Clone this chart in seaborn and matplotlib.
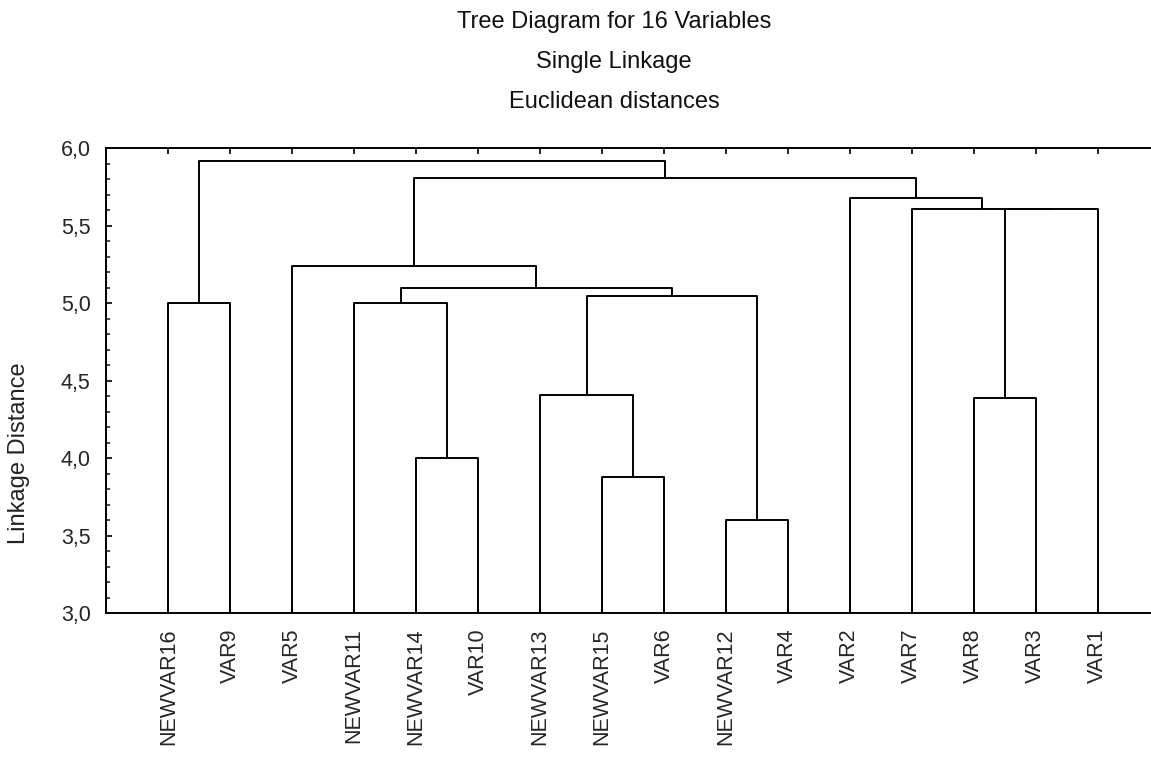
import numpy as np
import pandas as pd
import matplotlib
matplotlib.use("Agg")
import matplotlib.pyplot as plt
import seaborn as sns
from matplotlib.ticker import MultipleLocator, FuncFormatter

# ---- data ----
leaf_labels = ["NEWVAR16", "VAR9", "VAR5", "NEWVAR11", "NEWVAR14", "VAR10",
               "NEWVAR13", "NEWVAR15", "VAR6", "NEWVAR12", "VAR4", "VAR2",
               "VAR7", "VAR8", "VAR3", "VAR1"]
# cluster ids: leaves 0..15, each merge creates id 16, 17, ...
merge_left = [9, 7, 4, 13, 6, 0, 3, 20, 22, 2, 19, 12, 11, 25, 21]
merge_right = [10, 8, 5, 14, 17, 1, 18, 16, 23, 24, 15, 26, 27, 28, 29]
merge_height = [3.60, 3.88, 4.00, 4.39, 4.41, 5.00, 5.00, 5.05, 5.10,
                5.24, 5.61, 5.61, 5.68, 5.81, 5.92]
y_min, y_max = 3.0, 6.0
title_lines = ["Tree Diagram for 16 Variables", "Single Linkage", "Euclidean distances"]
y_label = "Linkage Distance"

# ---- build dendrogram segments ----
pos = list(np.arange(len(leaf_labels), dtype=float))
hgt = [y_min] * len(leaf_labels)
rows = []
for k, (a, b, h) in enumerate(zip(merge_left, merge_right, merge_height)):
    xa, xb, ha, hb = pos[a], pos[b], hgt[a], hgt[b]
    for px, py in [(xa, ha), (xa, h), (xb, h), (xb, hb)]:
        rows.append({"seg": k, "x": px, "y": py})
    pos.append((xa + xb) / 2.0)
    hgt.append(h)
segs = pd.DataFrame(rows)

# ---- figure ----
sns.set_style("ticks")
plt.rcParams["font.family"] = ["Liberation Sans", "DejaVu Sans"]

W, H = 1151, 768
fig = plt.figure(figsize=(W / 100, H / 100), dpi=100)
left_px, right_px, top_px, bot_px = 106, 1151, 148.3, 613.3
ax = fig.add_axes([left_px / W, 1 - bot_px / H, (right_px - left_px) / W, (bot_px - top_px) / H])

sns.lineplot(data=segs, x="x", y="y", units="seg", estimator=None, sort=False,
             color="black", linewidth=1.4, legend=False, ax=ax)

ax.set_xlim(-1.005, 15.86)
ax.set_ylim(y_min, y_max)

ax.set_xticks(np.arange(len(leaf_labels)))
ax.set_xticklabels(leaf_labels, rotation=90, fontsize=15.5, va="top")
ax.yaxis.set_major_locator(MultipleLocator(0.5))
ax.yaxis.set_minor_locator(MultipleLocator(0.1))
ax.yaxis.set_major_formatter(FuncFormatter(lambda v, p: f"{v:.1f}".replace(".", ",")))
ax.tick_params(axis="y", which="major", direction="in", length=4, width=1.2,
               labelsize=15.5, pad=11, left=True, right=False, color="black")
ax.tick_params(axis="y", which="minor", direction="in", length=3, width=1.2, left=True, right=False)
ax.tick_params(axis="x", which="major", direction="in", length=4, width=1.2,
               pad=11, top=True, bottom=True, color="black")

for side in ["left", "bottom", "top"]:
    ax.spines[side].set_visible(True)
    ax.spines[side].set_linewidth(1.4)
    ax.spines[side].set_color("black")
ax.spines["right"].set_visible(False)

ax.set_xlabel("")
ax.set_ylabel(y_label, fontsize=17, color="#222222")
ax.yaxis.set_label_coords(-0.073, 0.345)

for txt, yp in zip(title_lines, [22, 62, 102]):
    fig.text(614 / W, 1 - yp / H, txt, ha="center", va="center", fontsize=17, color="#111111")

fig.savefig("out.png", dpi=100, facecolor="white")
